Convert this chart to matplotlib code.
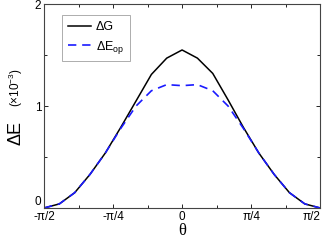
import numpy as np
import matplotlib
matplotlib.use('Agg')
import matplotlib.pyplot as plt

plt.rcParams['font.family'] = ['Liberation Sans', 'DejaVu Sans']
plt.rcParams['mathtext.fontset'] = 'custom'
plt.rcParams['mathtext.rm'] = 'Liberation Sans'
plt.rcParams['mathtext.it'] = 'Liberation Sans:italic'

# angle in degrees, energies in units of 1e-3
theta_deg = [-90, -80, -70, -60, -50, -40, -30, -20, -10, 0,
             10, 20, 30, 40, 50, 60, 70, 80, 90]
dG = [0.0, 0.04, 0.15, 0.33, 0.54, 0.79, 1.05, 1.31, 1.47, 1.55,
      1.47, 1.32, 1.06, 0.79, 0.54, 0.33, 0.15, 0.04, 0.0]
dEop = [0.0, 0.04, 0.15, 0.33, 0.54, 0.78, 1.00, 1.15, 1.21, 1.20,
        1.21, 1.15, 1.00, 0.78, 0.54, 0.33, 0.15, 0.04, 0.0]

xticks = [-np.pi/2, -np.pi/4, 0, np.pi/4, np.pi/2]
xticklabels = ['-\u03c0/2', '-\u03c0/4', '0', '\u03c0/4', '\u03c0/2']

th = np.deg2rad(theta_deg)

fig = plt.figure(figsize=(3.26, 2.41), dpi=100)
ax = fig.add_axes([0.135, 0.137, 0.847, 0.846])

ax.plot(th, dG, color='black', lw=1.1, label='\u0394G')
ax.plot(th, dEop, color='#1a1aff', lw=1.2, ls=(0, (5, 3.5)), label='\u0394E$_{\\mathrm{op}}$')

ax.set_xlim(-np.pi/2, np.pi/2)
ax.set_ylim(0, 2)
ax.set_xticks(xticks)
ax.set_xticklabels(xticklabels)
ax.set_xticks([-3*np.pi/8, -np.pi/8, np.pi/8, 3*np.pi/8], minor=True)
ax.set_yticks([0, 1, 2])
ax.set_yticks([0.5, 1.5], minor=True)
ax.tick_params(which='both', direction='in', top=True, right=True, labelsize=8.5, pad=2)
ax.tick_params(which='major', length=3, width=0.6)
ax.tick_params(which='minor', length=2, width=0.6)
for s in ax.spines.values():
    s.set_color('#444444')
    s.set_linewidth(0.8)
# zero label sits above the corner in the original, last x label hugs the edge
ax.get_yticklabels()[0].set_va('bottom')
ax.get_xticklabels()[-1].set_ha('right')

ax.set_xlabel('\u03b8', family=['Liberation Serif', 'DejaVu Serif'], fontsize=12, labelpad=0)

fig.text(0.05, 0.45, '\u0394E', rotation=90, fontsize=13, ha='center', va='center')
fig.text(0.05, 0.635, '$\\mathrm{(\\times 10^{-3})}$', rotation=90, fontsize=8.5, ha='center', va='center')

leg = ax.legend(loc='upper left', bbox_to_anchor=(0.065, 0.945), fontsize=9, frameon=True,
                fancybox=False, handlelength=1.85, handletextpad=0.4, borderpad=0.45,
                labelspacing=0.45, borderaxespad=0)
leg.get_frame().set_edgecolor('#888888')
leg.get_frame().set_linewidth(0.6)

fig.savefig('out.png', dpi=100)
